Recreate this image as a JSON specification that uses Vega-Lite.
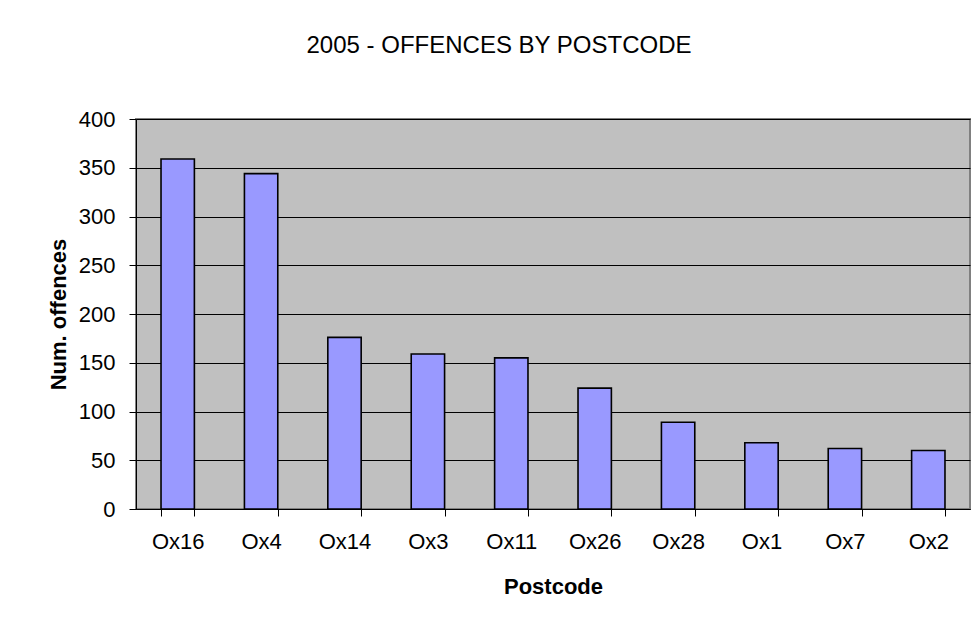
{
  "$schema": "https://vega.github.io/schema/vega-lite/v6.json",
  "width": 834,
  "height": 390,
  "autosize": "none",
  "padding": {"left": 136, "top": 119, "right": 6, "bottom": 116},
  "background": "white",
  "data": {"values": [
    {"postcode": "Ox16", "offences": 359},
    {"postcode": "Ox4", "offences": 344},
    {"postcode": "Ox14", "offences": 176},
    {"postcode": "Ox3", "offences": 159},
    {"postcode": "Ox11", "offences": 155},
    {"postcode": "Ox26", "offences": 124},
    {"postcode": "Ox28", "offences": 89},
    {"postcode": "Ox1", "offences": 68},
    {"postcode": "Ox7", "offences": 62},
    {"postcode": "Ox2", "offences": 60}
  ]},
  "title": {
    "text": "2005 - OFFENCES BY POSTCODE",
    "font": "Liberation Sans",
    "fontSize": 24,
    "fontWeight": "normal",
    "color": "black",
    "anchor": "middle",
    "frame": "group",
    "dx": -54,
    "offset": 50
  },
  "mark": {"type": "bar", "fill": "#9999FF", "stroke": "black", "strokeWidth": 1.6},
  "encoding": {
    "x": {
      "field": "postcode",
      "type": "nominal",
      "sort": null,
      "scale": {"paddingInner": 0.6, "paddingOuter": 0.3},
      "axis": {
        "title": "Postcode",
        "labelAngle": 0,
        "tickBand": "extent",
        "labelPadding": 15,
        "titlePadding": 24
      }
    },
    "y": {
      "field": "offences",
      "type": "quantitative",
      "scale": {"domain": [0, 400], "nice": false},
      "axis": {
        "title": "Num. offences",
        "values": [0, 50, 100, 150, 200, 250, 300, 350, 400],
        "grid": true,
        "labelPadding": 14,
        "titlePadding": 8
      }
    }
  },
  "config": {
    "font": "Liberation Sans",
    "view": {"fill": "#C0C0C0", "stroke": "#808080", "strokeWidth": 2},
    "axis": {
      "domainColor": "black",
      "domainWidth": 1,
      "tickColor": "black",
      "tickSize": 7,
      "tickWidth": 1,
      "gridColor": "black",
      "gridWidth": 1,
      "gridOpacity": 1,
      "labelFont": "Liberation Sans",
      "labelFontSize": 22,
      "labelColor": "black",
      "titleFont": "Liberation Sans",
      "titleFontSize": 22,
      "titleFontWeight": "bold",
      "titleColor": "black"
    }
  }
}
